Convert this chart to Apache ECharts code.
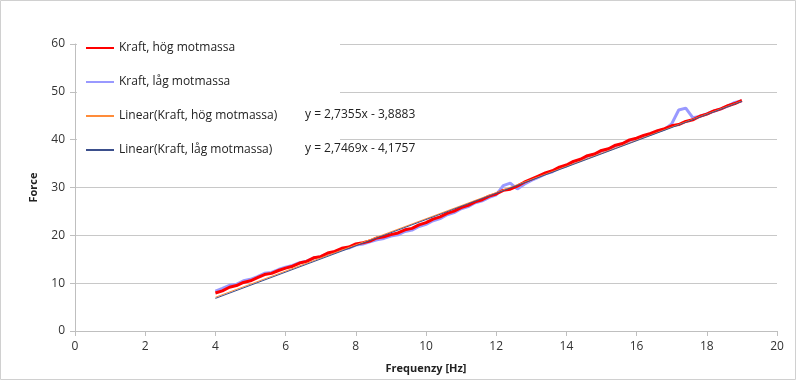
<!DOCTYPE html>
<html>
<head>
<meta charset="utf-8">
<script src="https://cdn.jsdelivr.net/npm/echarts@6/dist/echarts.min.js"></script>
<style>
html,body{margin:0;padding:0;background:#fff;}
#c{width:796px;height:380px;}
</style>
</head>
<body>
<div id="c"></div>
<script>
// Frequency samples [Hz]
var freq = [4.0,4.2,4.4,4.6,4.8,5.0,5.2,5.4,5.6,5.8,6.0,6.2,6.4,6.6,6.8,7.0,7.2,7.4,7.6,7.8,
  8.0,8.2,8.4,8.6,8.8,9.0,9.2,9.4,9.6,9.8,10.0,10.2,10.4,10.6,10.8,11.0,11.2,11.4,11.6,11.8,
  12.0,12.2,12.4,12.6,12.8,13.0,13.2,13.4,13.6,13.8,14.0,14.2,14.4,14.6,14.8,15.0,15.2,15.4,15.6,15.8,
  16.0,16.2,16.4,16.6,16.8,17.0,17.2,17.4,17.6,17.8,18.0,18.2,18.4,18.6,18.8,19.0];
// Kraft, hög motmassa
var kraftHog = [7.95,8.40,9.15,9.50,10.15,10.50,11.15,11.80,12.05,12.65,13.15,13.55,14.20,14.55,15.30,15.55,16.30,16.65,17.30,17.55,
  18.20,18.45,18.80,19.45,19.70,20.15,20.50,21.15,21.45,22.20,22.65,23.40,23.85,24.60,25.05,25.80,26.25,27.00,27.45,28.20,
  28.65,29.40,29.65,30.30,31.10,31.75,32.40,33.05,33.50,34.25,34.70,35.45,35.90,36.65,37.00,37.75,38.10,38.85,39.20,39.95,
  40.30,40.90,41.30,41.90,42.30,42.90,43.15,43.80,44.15,44.90,45.35,46.00,46.45,47.10,47.55,48.20];
// Kraft, låg motmassa
var kraftLag = [8.35,8.90,9.55,9.75,10.50,10.80,11.35,12.05,12.25,12.85,13.35,13.70,14.30,14.60,15.25,15.55,16.15,16.55,17.10,17.35,
  17.95,18.20,18.65,19.05,19.35,19.85,20.10,20.80,21.10,21.85,22.30,23.05,23.50,24.30,24.75,25.55,26.00,26.80,27.20,27.95,
  28.45,30.40,30.90,29.70,30.70,31.50,32.10,32.85,33.30,34.10,34.50,35.30,35.75,36.50,36.90,37.60,38.00,38.70,39.10,39.80,
  40.20,40.75,41.15,41.75,42.20,43.30,46.20,46.60,44.60,44.85,45.40,45.95,46.45,47.00,47.80,48.10];
// Trendline coefficients [slope, intercept]
var trendHog = [2.7355, -3.8883];
var trendLag = [2.7469, -4.1757];
var seriesNames = ['Kraft, hög motmassa','Kraft, låg motmassa','Linear(Kraft, hög motmassa)','Linear(Kraft, låg motmassa)'];
var eqLabels = ['y = 2,7355x - 3,8883','y = 2,7469x - 4,1757'];
var xTicks = [0,2,4,6,8,10,12,14,16,18,20];
var yTicks = [0,10,20,30,40,50,60];

function pairs(xs, ys){ return xs.map(function(x,i){ return [x, ys[i]]; }); }
var xMin = freq[0], xMax = freq[freq.length-1];
function trendPts(c){ return [[xMin, c[0]*xMin + c[1]], [xMax, c[0]*xMax + c[1]]]; }

var FONT = 'Open Sans';
var chart = echarts.init(document.getElementById('c'), null, {renderer:'canvas'});
chart.setOption({
  animation:false,
  backgroundColor:'#fff',
  textStyle:{fontFamily:FONT},
  grid:{left:75,right:19,top:44,bottom:49,containLabel:false},
  xAxis:{
    type:'value', min:xTicks[0], max:xTicks[xTicks.length-1], interval:2,
    name:'Frequenzy [Hz]', nameLocation:'middle', nameGap:32,
    nameTextStyle:{fontFamily:FONT,fontSize:11,fontWeight:'bold',color:'#222'},
    axisLine:{show:true,lineStyle:{color:'#bfbfbf',width:1}},
    axisTick:{show:true,length:5,lineStyle:{color:'#bfbfbf'}},
    axisLabel:{fontFamily:FONT,fontSize:12,color:'#333',margin:10},
    splitLine:{show:false}
  },
  yAxis:{
    type:'value', min:yTicks[0], max:yTicks[yTicks.length-1], interval:10,
    name:'Force', nameLocation:'middle', nameGap:36, nameRotate:90,
    nameTextStyle:{fontFamily:FONT,fontSize:11,fontWeight:'bold',color:'#222'},
    axisLine:{show:true,lineStyle:{color:'#bfbfbf',width:1}},
    axisTick:{show:true,length:5,lineStyle:{color:'#bfbfbf'}},
    axisLabel:{fontFamily:FONT,fontSize:12,color:'#333',margin:10},
    splitLine:{show:true,lineStyle:{color:'#c8c8c8',width:1}}
  },
  legend:{
    orient:'vertical', left:80, top:37, itemWidth:28, itemHeight:14, itemGap:22,
    data:seriesNames,
    itemStyle:{opacity:0},
    textStyle:{fontFamily:FONT,fontSize:12,color:'#222'}
  },
  graphic:[
    {type:'rect', z:1, shape:{x:77,y:36,width:263,height:126}, style:{fill:'#fff'}},
    {type:'text', z:5, x:305, y:115, style:{text:eqLabels[0], font:'12px "Open Sans"', fill:'#222', verticalAlign:'middle'}},
    {type:'text', z:5, x:305, y:149, style:{text:eqLabels[1], font:'12px "Open Sans"', fill:'#222', verticalAlign:'middle'}},
    {type:'rect', z:10, shape:{x:0.5,y:0.5,width:795,height:379}, style:{fill:'none',stroke:'#d0d0d0',lineWidth:1}}
  ],
  series:[
    {name:seriesNames[0], type:'line', data:pairs(freq,kraftHog), symbol:'none', z:3,
      lineStyle:{color:'#ff0000',width:3}, itemStyle:{color:'#ff0000'}},
    {name:seriesNames[1], type:'line', data:pairs(freq,kraftLag), symbol:'none', z:2,
      lineStyle:{color:'#9999ff',width:3}, itemStyle:{color:'#9999ff'}},
    {name:seriesNames[2], type:'line', data:trendPts(trendHog), symbol:'none', z:4,
      lineStyle:{color:'#ff8c3a',width:1}, itemStyle:{color:'#ff8c3a'}},
    {name:seriesNames[3], type:'line', data:trendPts(trendLag), symbol:'none', z:4,
      lineStyle:{color:'#3b4f8c',width:1}, itemStyle:{color:'#3b4f8c'}}
  ]
});
</script>
</body>
</html>
